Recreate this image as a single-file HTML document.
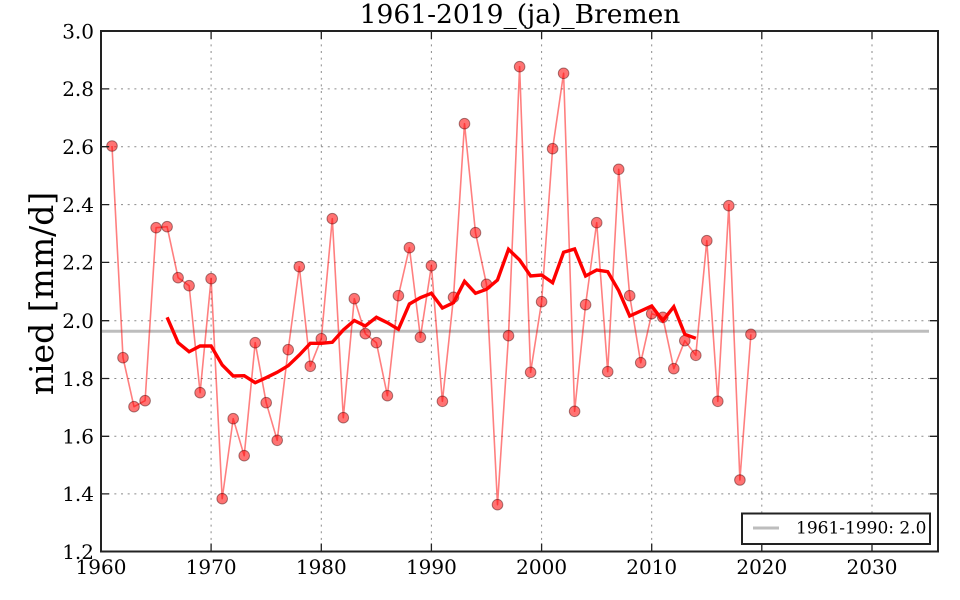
<!DOCTYPE html>
<html>
<head>
<meta charset="utf-8">
<style>
html,body{margin:0;padding:0;background:#fff;}
svg{display:block;}
text{font-family:"DejaVu Serif","Liberation Serif",serif;fill:#000;}
</style>
</head>
<body>
<svg width="960" height="600" viewBox="0 0 960 600" xmlns="http://www.w3.org/2000/svg">
<defs>
<marker id="dot" markerUnits="userSpaceOnUse" markerWidth="14" markerHeight="14" refX="7" refY="7" viewBox="0 0 14 14" overflow="visible">
<circle cx="7" cy="7" r="5.3" fill="rgba(255,0,0,0.55)" stroke="rgba(60,0,0,0.45)" stroke-width="1"/>
</marker>
</defs>
<rect x="0" y="0" width="960" height="600" fill="#fff"/>
<path fill="none" stroke="#8a8a8a" stroke-width="1" stroke-dasharray="2,4.67" d="M211.1 31V551.5M321.3 31V551.5M431.4 31V551.5M541.6 31V551.5M651.7 31V551.5M761.8 31V551.5M872 31V551.5M101 88.9H938M101 146.7H938M101 204.6H938M101 262.4H938M101 320.7H938M101 378.5H938M101 436.3H938M101 493.9H938"/>
<line x1="101" y1="331.3" x2="929" y2="331.3" stroke="#bdbdbd" stroke-width="3"/>
<polyline fill="none" stroke="rgba(255,0,0,0.5)" stroke-width="1.6" stroke-linejoin="round" marker-start="url(#dot)" marker-mid="url(#dot)" marker-end="url(#dot)" points="112.0,146 123.0,357.7 134.0,406.7 145.1,400.7 156.1,227.7 167.1,226.7 178.1,277.7 189.1,285.7 200.1,392.7 211.1,278.7 222.2,498.7 233.2,418.7 244.2,455.7 255.2,342.7 266.2,402.7 277.2,440.3 288.2,349.7 299.3,266.7 310.3,366.3 321.3,338.7 332.3,218.7 343.3,417.7 354.3,298.7 365.3,333.7 376.4,342.7 387.4,395.7 398.4,295.7 409.4,247.7 420.4,337.3 431.4,265.7 442.4,401.3 453.5,297.3 464.5,123.7 475.5,232.7 486.5,284.3 497.5,504.7 508.5,335.7 519.6,66.7 530.6,372.3 541.6,301.7 552.6,148.7 563.6,73.3 574.6,411.3 585.6,304.7 596.7,222.7 607.7,371.7 618.7,169.3 629.7,295.7 640.7,362.7 651.7,313.7 662.8,317.3 673.8,368.7 684.8,340.7 695.8,355.3 706.8,240.7 717.8,401.3 728.8,205.7 739.9,480 750.9,334.3"/>
<polyline fill="none" stroke="#ff0000" stroke-width="3.4" stroke-linejoin="miter" points="167.1,317.3 178.1,342.7 189.1,351.7 200.1,346 211.1,346 222.2,365 233.2,376 244.2,375.7 255.2,382.7 266.2,377.7 277.2,372.3 288.2,365.7 299.3,355 310.3,343.3 321.3,343.3 332.3,342.3 343.3,330 354.3,320.5 365.3,326 376.4,317.3 387.4,322.7 398.4,329.3 409.4,304 420.4,297.7 431.4,293.3 442.4,308 453.5,302.7 464.5,281.3 475.5,293.3 486.5,289.3 497.5,280 508.5,249.3 519.6,260 530.6,276 541.6,275 552.6,282.7 563.6,252.3 574.6,249 585.6,276 596.7,270 607.7,271.7 618.7,290.7 629.7,316 640.7,311 651.7,306 662.8,320.7 673.8,306.7 684.8,334.3 695.8,338.3"/>
<path fill="none" stroke="#222" stroke-width="1.3" d="M101 88.9h8M938 88.9h-8M101 146.7h8M938 146.7h-8M101 204.6h8M938 204.6h-8M101 262.4h8M938 262.4h-8M101 320.7h8M938 320.7h-8M101 378.5h8M938 378.5h-8M101 436.3h8M938 436.3h-8M101 493.9h8M938 493.9h-8M211.1 551.5v-8M211.1 31v8M321.3 551.5v-8M321.3 31v8M431.4 551.5v-8M431.4 31v8M541.6 551.5v-8M541.6 31v8M651.7 551.5v-8M651.7 31v8M761.8 551.5v-8M761.8 31v8M872 551.5v-8M872 31v8"/>
<rect x="101" y="31" width="837" height="520.5" fill="none" stroke="#222" stroke-width="2"/>
<g font-size="20" text-anchor="end">
<text x="94" y="38.3">3.0</text>
<text x="94" y="96.2">2.8</text>
<text x="94" y="154">2.6</text>
<text x="94" y="211.9">2.4</text>
<text x="94" y="269.7">2.2</text>
<text x="94" y="328">2.0</text>
<text x="94" y="385.8">1.8</text>
<text x="94" y="443.6">1.6</text>
<text x="94" y="501.2">1.4</text>
<text x="94" y="558.8">1.2</text>
</g>
<g font-size="20" text-anchor="middle">
<text x="101" y="574">1960</text>
<text x="211.1" y="574">1970</text>
<text x="321.3" y="574">1980</text>
<text x="431.4" y="574">1990</text>
<text x="541.6" y="574">2000</text>
<text x="651.7" y="574">2010</text>
<text x="761.8" y="574">2020</text>
<text x="872" y="574">2030</text>
</g>
<text x="520" y="23" font-size="26.5" text-anchor="middle">1961-2019_(ja)_Bremen</text>
<text transform="translate(53,293.5) rotate(-90)" font-size="33" text-anchor="middle">nied [mm/d]</text>
<rect x="742" y="513.5" width="188" height="30.5" fill="#fff" stroke="#222" stroke-width="2"/>
<line x1="753" y1="528" x2="779" y2="528" stroke="#bdbdbd" stroke-width="3"/>
<text x="796" y="533.5" font-size="17">1961-1990: 2.0</text>
</svg>
</body>
</html>
